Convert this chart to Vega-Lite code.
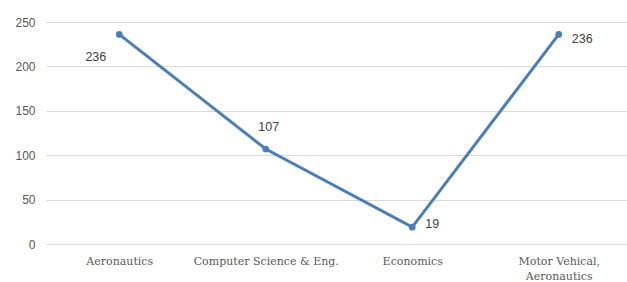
{
  "$schema": "https://vega.github.io/schema/vega-lite/v6.json",
  "width": 586,
  "height": 222,
  "autosize": "none",
  "padding": {"left": 46, "top": 22, "right": 0, "bottom": 38},
  "background": "white",
  "config": {"view": {"stroke": null}},
  "data": {
    "values": [
      {"field": "Aeronautics", "count": 236},
      {"field": "Computer Science & Eng.", "count": 107},
      {"field": "Economics", "count": 19},
      {"field": "Motor Vehical, Aeronautics", "count": 236}
    ]
  },
  "encoding": {
    "x": {
      "field": "field",
      "type": "nominal",
      "sort": null,
      "scale": {"paddingInner": 0, "paddingOuter": 0},
      "axis": {
        "title": null,
        "labelAngle": 0,
        "domain": false,
        "ticks": false,
        "labelPadding": 11,
        "labelFont": "DejaVu Serif",
        "labelFontSize": 11,
        "labelColor": "#595959",
        "labelLineHeight": 15,
        "labelExpr": "datum.label == 'Motor Vehical, Aeronautics' ? ['Motor Vehical,', 'Aeronautics'] : datum.label"
      }
    },
    "y": {
      "field": "count",
      "type": "quantitative",
      "scale": {"domain": [0, 250]},
      "axis": {
        "title": null,
        "values": [0, 50, 100, 150, 200, 250],
        "domain": false,
        "ticks": false,
        "labelPadding": 11,
        "labelFont": "Liberation Sans",
        "labelFontSize": 12,
        "labelColor": "#595959",
        "gridColor": "#d9d9d9",
        "gridWidth": 1
      }
    }
  },
  "layer": [
    {
      "mark": {"type": "line", "color": "#4a7ebb", "strokeWidth": 3, "point": {"filled": true, "size": 45, "color": "#4a7ebb"}}
    },
    {
      "transform": [{"filter": "datum.field == 'Aeronautics'"}],
      "mark": {"type": "text", "align": "right", "dx": -13, "dy": 23, "font": "Liberation Sans", "fontSize": 12.5, "color": "#404040"},
      "encoding": {"text": {"field": "count"}}
    },
    {
      "transform": [{"filter": "datum.field == 'Computer Science & Eng.'"}],
      "mark": {"type": "text", "align": "center", "dx": 3, "dy": -22, "font": "Liberation Sans", "fontSize": 12.5, "color": "#404040"},
      "encoding": {"text": {"field": "count"}}
    },
    {
      "transform": [{"filter": "datum.field == 'Economics'"}],
      "mark": {"type": "text", "align": "left", "dx": 13, "dy": -3, "font": "Liberation Sans", "fontSize": 12.5, "color": "#404040"},
      "encoding": {"text": {"field": "count"}}
    },
    {
      "transform": [{"filter": "datum.field == 'Motor Vehical, Aeronautics'"}],
      "mark": {"type": "text", "align": "left", "dx": 13, "dy": 5, "font": "Liberation Sans", "fontSize": 12.5, "color": "#404040"},
      "encoding": {"text": {"field": "count"}}
    }
  ]
}
